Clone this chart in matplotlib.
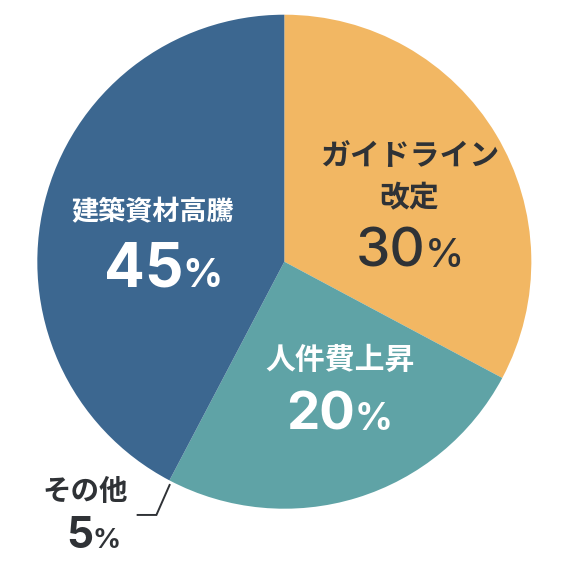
import matplotlib
matplotlib.use("Agg")
import matplotlib.pyplot as plt
import numpy as np

# ---- data ----
categories = ["ガイドライン\n改定", "人件費上昇", "その他", "建築資材高騰"]
pct_numbers = ["30", "20", "5", "45"]
# visible wedge shares as drawn in the picture (degrees of the circle, in %)
shares = [32.8, 24.9, 0.0, 42.3]
colors = ["#F2B763", "#5FA3A6", "#3C6790", "#3C6790"]

# ---- layout ----
plt.rcParams['font.family'] = ['Noto Sans CJK JP', 'DejaVu Sans']
fig = plt.figure(figsize=(5.81, 5.68), dpi=100)
ax = fig.add_axes([0, 0, 1, 1])
wedges, _ = ax.pie(shares, colors=colors, startangle=90, counterclock=False,
                   radius=1, center=(0, 0), wedgeprops=dict(linewidth=0))
ax.set_xlim(-1.151, 1.201)
ax.set_ylim(-1.240, 1.0595)
ax.set_aspect('equal')
ax.axis('off')

DARK = "#2F3236"
WHITE = "#FFFFFF"

# label styles: (label xy, label color, label size, label weight,
#                pct junction x, pct baseline y, num size, pct size, num weight)
styles = [
    ((0.507, 0.342), DARK, 21.5, 'bold', 0.575, -0.021, 39.5, 28.5, 'medium'),
    ((0.226, -0.396), WHITE, 21.5, 'bold', 0.290, -0.681, 38, 27, 'bold'),
    ((-0.808, -0.934), DARK, 20.5, 'bold', -0.770, -1.159, 30.5, 20, 'bold'),
    ((-0.534, 0.199), WHITE, 19.5, 'bold', -0.405, -0.102, 43.5, 28.5, 'bold'),
]

for cat, num, st in zip(categories, pct_numbers, styles):
    (lx, ly), col, lsz, lw, jx, by, nsz, psz, nw = st
    ax.text(lx, ly, cat, ha='center', va='center', color=col, fontsize=lsz,
            fontweight=lw, linespacing=1.5, family=['Noto Sans CJK JP', 'DejaVu Sans'])
    ax.text(jx - 0.004, by, num, ha='right', va='baseline', color=col,
            fontsize=nsz, fontweight=nw, family=['Inter', 'DejaVu Sans'])
    ax.text(jx - 0.006, by, "%", ha='left', va='baseline', color=col,
            fontsize=psz, fontweight=nw, family=['Inter', 'DejaVu Sans'])

# leader line for the small "その他" slice at the teal/blue boundary
w = wedges[2]
ang = np.deg2rad(w.theta1)
ex, ey = np.cos(ang), np.sin(ang)
ax.plot([ex * 0.995, ex * 0.995 - 0.055, ex * 0.995 - 0.135],
        [ey - 0.015, ey - 0.14, ey - 0.14],
        color=DARK, lw=1.4, solid_capstyle='butt', solid_joinstyle='miter')

fig.savefig("out.png", dpi=100, facecolor="white")
